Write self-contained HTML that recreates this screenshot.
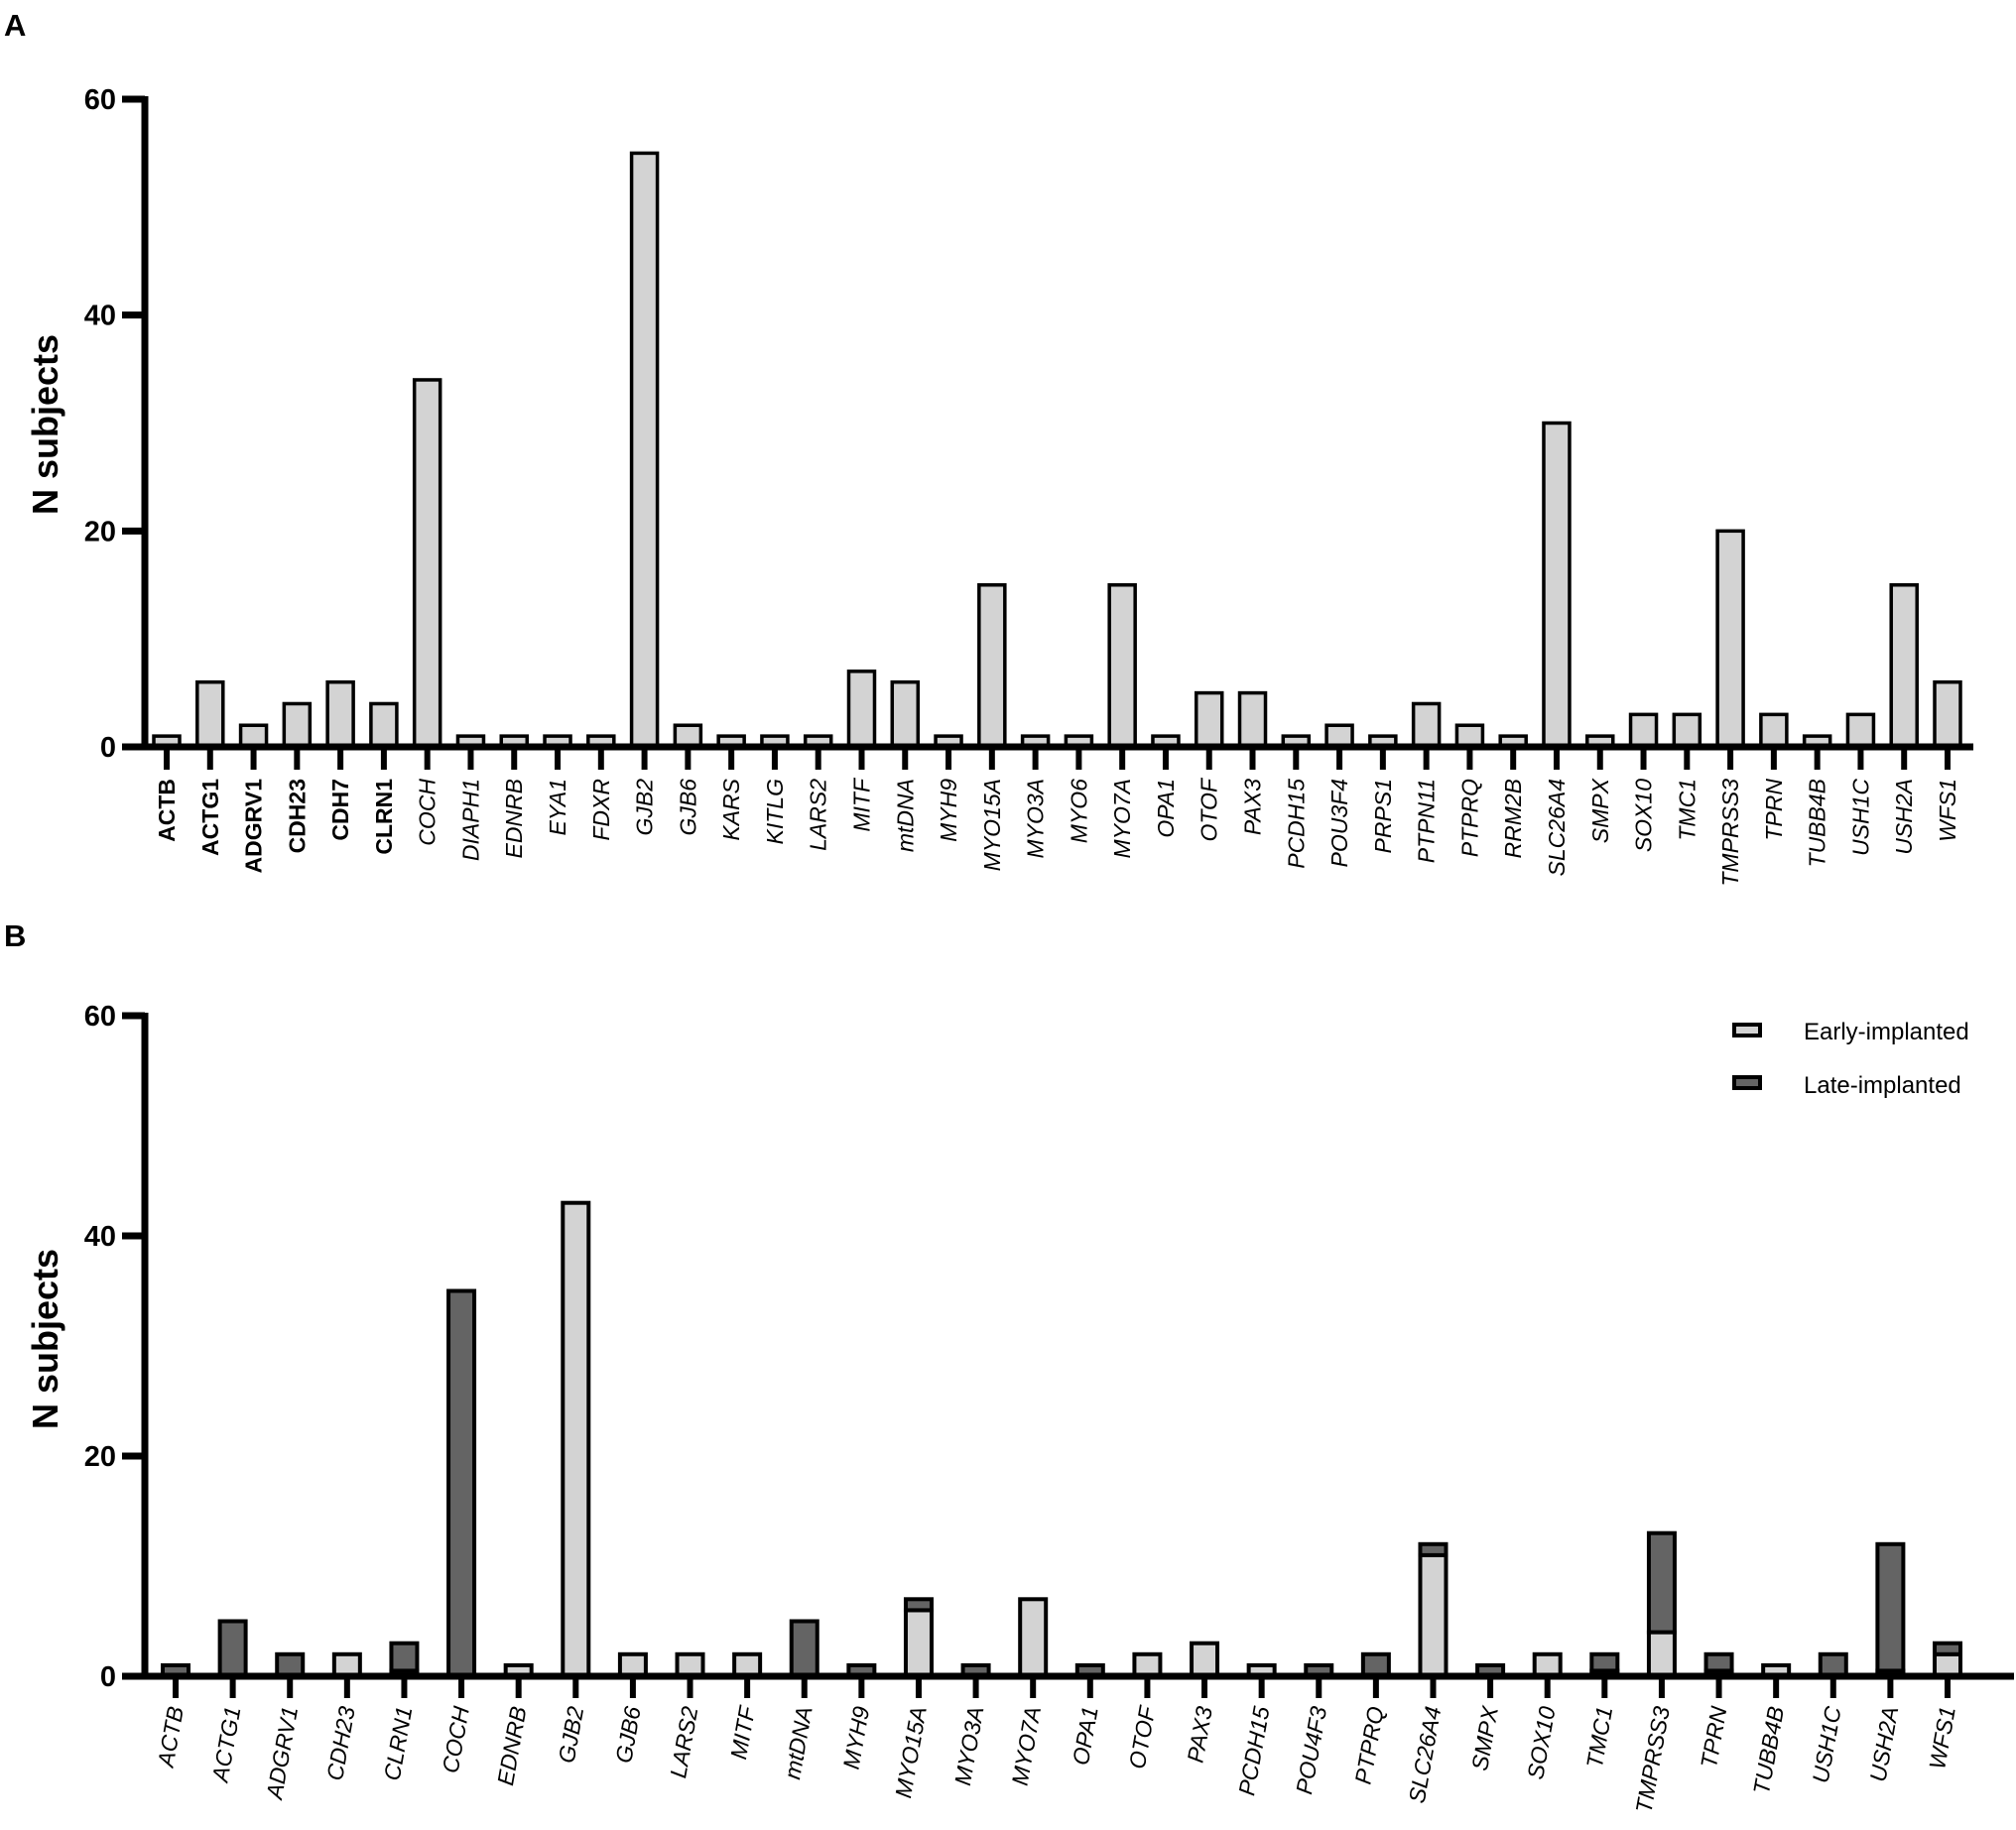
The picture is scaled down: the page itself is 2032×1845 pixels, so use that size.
<!DOCTYPE html>
<html><head><meta charset="utf-8"><style>
html,body{margin:0;padding:0;background:#fff;}
svg{display:block;font-family:"Liberation Sans",Arial,sans-serif;}
</style></head><body>
<svg id="fig" width="2032" height="1845" viewBox="0 0 2032 1845" xmlns="http://www.w3.org/2000/svg">
<text x="4" y="36" font-size="31" font-weight="bold">A</text>
<text x="4" y="954" font-size="31" font-weight="bold">B</text>
<g id="chartA"></g>
<g id="chartB"></g>
<g>
<rect x="1748" y="1033" width="26" height="11" fill="#d3d3d3" stroke="#000" stroke-width="4"/>
<text x="1818" y="1048" font-size="24">Early-implanted</text>
<rect x="1748" y="1086" width="26" height="11" fill="#646464" stroke="#000" stroke-width="4"/>
<text x="1818" y="1102" font-size="24">Late-implanted</text>
</g>
</svg>
<script>
const catsA = ["ACTB","ACTG1","ADGRV1","CDH23","CDH7","CLRN1","COCH","DIAPH1","EDNRB","EYA1","FDXR","GJB2","GJB6","KARS","KITLG","LARS2","MITF","mtDNA","MYH9","MYO15A","MYO3A","MYO6","MYO7A","OPA1","OTOF","PAX3","PCDH15","POU3F4","PRPS1","PTPN11","PTPRQ","RRM2B","SLC26A4","SMPX","SOX10","TMC1","TMPRSS3","TPRN","TUBB4B","USH1C","USH2A","WFS1"];
const valsA = [1,6,2,4,6,4,34,1,1,1,1,55,2,1,1,1,7,6,1,15,1,1,15,1,5,5,1,2,1,4,2,1,30,1,3,3,20,3,1,3,15,6];
const boldCountA = 6;
const catsB = ["ACTB","ACTG1","ADGRV1","CDH23","CLRN1","COCH","EDNRB","GJB2","GJB6","LARS2","MITF","mtDNA","MYH9","MYO15A","MYO3A","MYO7A","OPA1","OTOF","PAX3","PCDH15","POU4F3","PTPRQ","SLC26A4","SMPX","SOX10","TMC1","TMPRSS3","TPRN","TUBB4B","USH1C","USH2A","WFS1"];
const earlyB = [0,0,0,2,0.5,0,1,43,2,2,2,0,0,6,0,7,0,2,3,1,0,0,11,0,2,0.5,4,0.5,1,0,0.5,2];
const lateB  = [1,5,2,0,2.5,35,0,0,0,0,0,5,1,1,1,0,1,0,0,0,1,2,1,1,0,1.5,9,1.5,0,2,11.5,1];
const yTicks = [0,20,40,60];

const NS="http://www.w3.org/2000/svg";
function mk(parent,tag,attrs,txt){const e=document.createElementNS(NS,tag);for(const k in attrs)e.setAttribute(k,attrs[k]);if(txt!==undefined)e.textContent=txt;parent.appendChild(e);return e;}

function drawAxes(g,cfg){
  const y=v=>cfg.y0-(v/60)*(cfg.y0-cfg.y60);
  let ax=mk(g,'line',{x1:146,y1:cfg.y60-3,x2:146,y2:cfg.y0+3,stroke:'#000','stroke-width':7});
  
  
  let bx=mk(g,'line',{x1:123,y1:cfg.y0,x2:cfg.xEnd,y2:cfg.y0,stroke:'#000','stroke-width':7});
  
  
  yTicks.forEach(t=>{
    let tk=mk(g,'line',{x1:123,y1:y(t),x2:146,y2:y(t),stroke:'#000','stroke-width':7});
    
    
    let tl=mk(g,'text',{x:117,y:y(t)+10,'font-size':29,'font-weight':'bold','text-anchor':'end'},String(t));
    
    
  });
  let yt=mk(g,'text',{x:0,y:0,'font-size':36,'font-weight':'bold','text-anchor':'middle',transform:`translate(58,${cfg.titleY}) rotate(-90)`},'N subjects');
  
  
  return y;
}

// Panel A
(function(){
  const g=document.getElementById('chartA');
  const cfg={y0:753,y60:100,xEnd:1989,titleY:428};
  const x0=168,x1=1963,step=(x1-x0)/(catsA.length-1),bw=26;
  const y=v=>cfg.y0-(v/60)*(cfg.y0-cfg.y60);
  catsA.forEach((c,i)=>{
    const cx=x0+i*step;
    let r=mk(g,'rect',{x:cx-bw/2,y:y(valsA[i]),width:bw,height:cfg.y0-y(valsA[i]),fill:'#d3d3d3',stroke:'#000','stroke-width':3.5});
    
    
  });
  drawAxes(g,cfg);
  catsA.forEach((c,i)=>{
    const cx=x0+i*step;
    let tk=mk(g,'line',{x1:cx,y1:cfg.y0,x2:cx,y2:776,stroke:'#000','stroke-width':6});
    
    
    const bold=i<boldCountA;
    let t=mk(g,'text',{x:0,y:0,'font-size':23,'font-weight':bold?'bold':'normal','font-style':bold?'normal':'italic','text-anchor':'end',transform:`translate(${cx+8},785) rotate(-90)`},c);
    
    
  });
})();

// Panel B
(function(){
  const g=document.getElementById('chartB');
  const cfg={y0:1690,y60:1024,xEnd:2030,titleY:1350};
  const x0=177,x1=1963,step=(x1-x0)/(catsB.length-1),bw=26;
  const y=v=>cfg.y0-(v/60)*(cfg.y0-cfg.y60);
  catsB.forEach((c,i)=>{
    const cx=x0+i*step,e=earlyB[i],l=lateB[i];
    if(e>0){
      let r=mk(g,'rect',{x:cx-bw/2,y:y(e),width:bw,height:cfg.y0-y(e),fill:'#d3d3d3',stroke:'#000','stroke-width':4});
      
      
    }
    if(l>0){
      let r=mk(g,'rect',{x:cx-bw/2,y:y(e+l),width:bw,height:y(e)-y(e+l),fill:'#646464',stroke:'#000','stroke-width':4});
      
      
    }
  });
  drawAxes(g,cfg);
  catsB.forEach((c,i)=>{
    const cx=x0+i*step;
    let tk=mk(g,'line',{x1:cx,y1:cfg.y0,x2:cx,y2:1712,stroke:'#000','stroke-width':6});
    
    
    let t=mk(g,'text',{x:0,y:0,'font-size':23,'font-style':'italic','text-anchor':'end',transform:`translate(${cx+8},1722) rotate(-80)`},c);
    
    
  });
})();
</script>
</body></html>
